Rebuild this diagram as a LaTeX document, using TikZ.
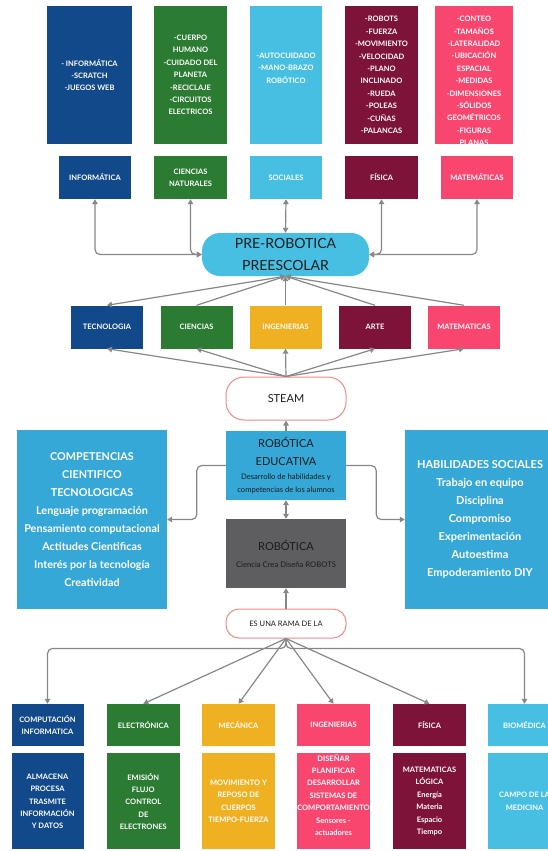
\documentclass[tikz,border=0pt]{standalone}
\usepackage{fontspec}
\setmainfont{Lato}
\usepackage{xcolor}
\usetikzlibrary{arrows.meta, positioning}
\definecolor{navy}{HTML}{12498A}
\definecolor{grn}{HTML}{2C7B33}
\definecolor{sky}{HTML}{46BFE3}
\definecolor{azure}{HTML}{36A8D8}
\definecolor{wine}{HTML}{7E1339}
\definecolor{rose}{HTML}{F9466F}
\definecolor{amber}{HTML}{EFB022}
\definecolor{slate}{HTML}{5E5D5F}
\definecolor{wire}{HTML}{878787}
\definecolor{salmon}{HTML}{EE8A86}
\definecolor{ink}{HTML}{1C1C1C}

\begin{document}
\begin{tikzpicture}[x=1pt, y=-1pt,
    panel/.style={fill=#1, text=white, font=\fontsize{7.5}{12.4}\selectfont\bfseries, align=center, inner sep=0pt, minimum width=73pt},
    head/.style={panel=#1, minimum height=43pt},
    txt/.style={text=white, font=\fontsize{7.5}{12.4}\selectfont\bfseries, align=center, inner sep=0pt},
    hub/.style={fill=sky, rounded corners=18pt, minimum width=167pt, minimum height=43pt, inner sep=0pt, align=center, text=ink, font=\fontsize{14}{21.5}\selectfont},
    pill/.style={draw=salmon, line width=1pt, fill=white, minimum width=120pt, inner sep=0pt, align=center, text=ink},
    big/.style={fill=azure, minimum width=150pt, minimum height=179pt, inner sep=0pt, align=center, text=white, font=\fontsize{10.8}{18}\selectfont\bfseries},
    link/.style={draw=wire, line width=1.2pt, -{Triangle[length=5pt, width=5.5pt]}},
    twoway/.style={link, {Triangle[length=5pt, width=5.5pt]}-{Triangle[length=5pt, width=5.5pt]}}
]
\useasboundingbox (0,0) rectangle (548,851);
\clip (0,0) rectangle (548,851);

\node[panel=navy, minimum width=85pt, minimum height=138pt] (infc) at (89.5,75) {- INFORMÁTICA\\-SCRATCH\\-JUEGOS WEB};
\node[panel=grn, minimum height=138pt] (ciec) at (190.5,75) {-CUERPO\\HUMANO\\-CUIDADO DEL\\PLANETA\\-RECICLAJE\\-CIRCUITOS\\ELECTRICOS};
\node[panel=sky, minimum width=72pt, minimum height=138pt, label={[txt, yshift=7pt]center:{-AUTOCUIDADO\\-MANO-BRAZO\\ROBÓTICO}}] (socc) at (286,75) {};
\node[panel=wine, minimum height=138pt] (fisc) at (381.5,75) {-ROBOTS\\-FUERZA\\-MOVIMIENTO\\-VELOCIDAD\\-PLANO\\INCLINADO\\-RUEDA\\-POLEAS\\-CUÑAS\\-PALANCAS};
\node[panel=rose, minimum width=78pt, minimum height=138pt, label={[txt, yshift=-6pt]center:{-CONTEO\\-TAMAÑOS\\-LATERALIDAD\\-UBICACIÓN\\ESPACIAL\\-MEDIDAS\\-DIMENSIONES\\-SÓLIDOS\\GEOMÉTRICOS\\-FIGURAS\\PLANAS}}] (matc) at (474,75) {};

\node[head=navy, minimum width=72pt] (inf) at (95,177.5) {INFORMÁTICA};
\node[head=grn] (cie) at (190.5,177.5) {CIENCIAS\\NATURALES};
\node[head=sky, minimum width=72pt] (soc) at (286,177.5) {SOCIALES};
\node[head=wine] (fis) at (381.5,177.5) {FÍSICA};
\node[head=rose, minimum width=72pt] (mat) at (477,177.5) {MATEMÁTICAS};

\node[hub] (pre) at (285.5,254.5) {PRE-ROBOTICA\\PREESCOLAR};

\node[head=navy, minimum width=72pt] (tec) at (107,327) {TECNOLOGIA};
\node[head=grn, minimum width=72pt] (cien) at (196.5,327) {CIENCIAS};
\node[head=amber, minimum width=72pt] (inge) at (285.5,327) {INGENIERIAS};
\node[head=wine, minimum width=72pt] (arte) at (375,327) {ARTE};
\node[head=rose, minimum width=72pt] (mate) at (464,327) {MATEMATICAS};

\node[pill, rounded corners=18pt, minimum height=43pt, font=\fontsize{11}{13}\selectfont] (steam) at (286,398.5) {STEAM};

\node[fill=azure, minimum width=120pt, minimum height=69pt, inner sep=0pt, align=center, text=ink, font=\fontsize{7.6}{13}\selectfont] (edu) at (286,465.5)
    {{\fontsize{11}{13}\selectfont ROBÓTICA}\\[5pt]{\fontsize{11}{13}\selectfont EDUCATIVA}\\[1pt]Desarrollo de habilidades y\\competencias de los alumnos};
\node[fill=slate, minimum width=120pt, minimum height=69pt, inner sep=0pt, align=center, text=ink, font=\fontsize{7.7}{13}\selectfont] (rob) at (286,553.5)
    {{\fontsize{11}{13}\selectfont ROBÓTICA}\\[4pt]Ciencia Crea Diseña ROBOTS};
\node[pill, rounded corners=13pt, minimum height=29pt, font=\fontsize{7.5}{9}\selectfont] (rama) at (286,623.5) {ES UNA RAMA DE LA};

\node[big] (cct) at (92,519.5) {COMPETENCIAS\\CIENTIFICO\\TECNOLOGICAS\\Lenguaje programación\\Pensamiento computacional\\Actitudes Cientificas\\Interés por la tecnología\\Creatividad};
\node[big, font=\fontsize{11}{18}\selectfont\bfseries] (hab) at (480,519.5) {HABILIDADES SOCIALES\\Trabajo en equipo\\Disciplina\\Compromiso\\Experimentación\\Autoestima\\Empoderamiento DIY};

\node[head=navy, minimum width=72pt, minimum height=42pt] (compu) at (47.5,725) {COMPUTACIÓN\\INFORMATICA};
\node[head=grn, minimum height=42pt] (elec) at (143.3,725) {ELECTRÓNICA};
\node[head=amber, minimum height=42pt] (mec) at (238.5,725) {MECÁNICA};
\node[head=rose, minimum height=42pt] (ing) at (333.5,725) {INGENIERIAS};
\node[head=wine, minimum height=42pt] (fisb) at (429.5,725) {FÍSICA};
\node[head=sky, minimum height=42pt] (bio) at (524.5,725) {BIOMÉDICA};

\node[panel=navy, minimum width=72pt, minimum height=96pt, below=7pt of compu] (compuc) {ALMACENA\\PROCESA\\TRASMITE\\INFORMACIÓN\\Y DATOS};
\node[panel=grn, minimum height=96pt, below=7pt of elec] (elecc) {EMISIÓN\\FLUJO\\CONTROL\\DE\\ELECTRONES};
\node[panel=amber, minimum height=96pt, below=7pt of mec] (mecc) {MOVIMIENTO Y\\REPOSO DE\\CUERPOS\\TIEMPO-FUERZA};
\node[panel=rose, minimum height=96pt, below=7pt of ing, label={[txt, yshift=6.5pt]center:{DISEÑAR\\PLANIFICAR\\DESARROLLAR\\SISTEMAS DE\\COMPORTAMIENTO\\Sensores -\\actuadores}}] (ingc) {};
\node[panel=wine, minimum height=96pt, below=7pt of fisb] (fisbc) {MATEMATICAS\\LÓGICA\\Energía\\Materia\\Espacio\\Tiempo};
\node[panel=sky, minimum height=96pt, below=7pt of bio] (bioc) {CAMPO DE LA\\MEDICINA};

\draw[twoway, rounded corners=5pt] (pre.west) -| (inf.south);
\draw[twoway, rounded corners=5pt] (pre.west) -| (cie.south);
\draw[twoway] (pre.north) -- (soc.south);
\draw[twoway, rounded corners=5pt] (pre.east) -| (fis.south);
\draw[twoway, rounded corners=5pt] (pre.east) -| (mat.south);

\draw[twoway] (pre.south) -- (tec.north);
\foreach \n in {cien,inge,arte,mate}
    \draw[link] (\n.north) -- (pre.south);
\foreach \n in {tec,cien,inge,arte,mate}
    \draw[link] (steam.north) -- (\n.south);

\draw[link] (edu.north) -- (steam.south);
\draw[twoway] (edu.south) -- (rob.north);
\draw[link] (rama.north) -- (rob.south);
\draw[link, rounded corners=5pt] (edu.west) -- ++(-29,0) |- (cct.east);
\draw[link, rounded corners=5pt] (edu.east) -- ++(30,0) |- (hab.west);

\draw[link, rounded corners=5pt] (rama.south) -- ++(0,10) -| (compu.north);
\draw[link, rounded corners=5pt] (rama.south) -- ++(0,10) -| (bio.north);
\foreach \n in {elec,mec,ing,fisb}
    \draw[link] (rama.south) -- (\n.north);
\end{tikzpicture}
\end{document}
